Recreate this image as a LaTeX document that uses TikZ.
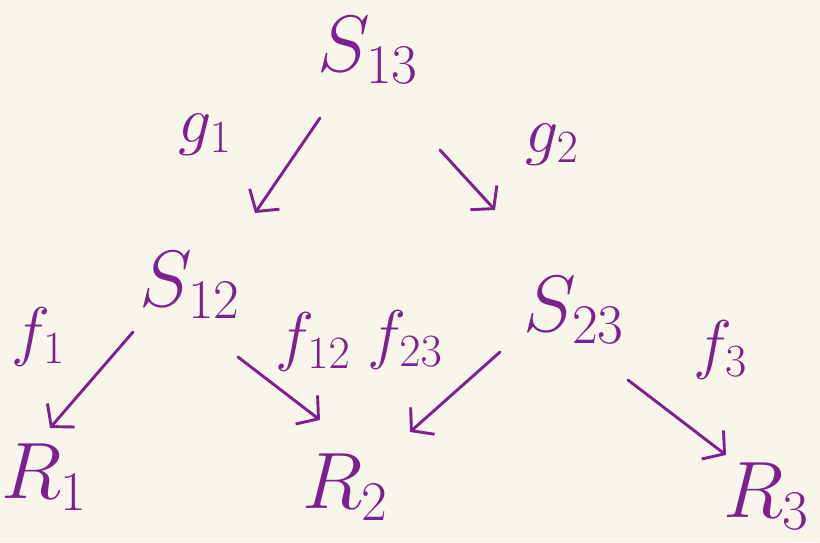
\RequirePackage{fix-cm}
\documentclass[tikz,border=0pt]{standalone}
\usepackage{amsmath}
\usepackage{xcolor}
\definecolor{inkPurple}{HTML}{7E2090}
\definecolor{paperCream}{HTML}{F8F5EA}
\usetikzlibrary{arrows.meta, positioning, calc}

\begin{document}
\begin{tikzpicture}[x=1pt, y=-1pt,
  obj/.style={text=inkPurple, inner sep=0pt, font=\fontsize{80}{90}\selectfont},
  maplabel/.style={text=inkPurple, inner sep=0pt, font=\fontsize{66}{72}\selectfont},
  maparrow/.style={draw=inkPurple, line width=2.9pt, line cap=round, line join=round,
    -{Straight Barb[length=15pt, width=36pt]}}]
  \useasboundingbox (0,0) rectangle (820,542);
  \fill[paperCream] (0,0) rectangle (820,542);

  % objects
  \node[obj] (s13) at (368,50) {$S_{13}$};
  \node[obj] (s12) at (190,285) {$S_{12}$};
  \node[obj] (s23) at (574,310) {$S_{23}$};
  \node[obj] (r1) at (44,477) {$R_1$};
  \node[obj] (r2) at (345,487) {$R_2$};
  \node[obj] (r3) at (766,496) {$R_3$};

  % maps
  \node[maplabel] (g1) at (205,135) {$g_1$};
  \node[maplabel] (g2) at (552,145) {$g_2$};
  \node[maplabel] (f1) at (38,337) {$f_1$};
  \node[maplabel] (f12) at (313,342) {$f_{12}$};
  \node[maplabel] (f23) at (405,340) {$f_{23}$};
  \node[maplabel] (f3) at (720,350) {$f_3$};

  \draw[maparrow] ($(s13)+(-48,68)$) -- ($(s12)+(65,-72)$);
  \draw[maparrow] ($(s13)+(72,100)$) -- ($(s23)+(-79,-100)$);
  \draw[maparrow] ($(s12)+(-57,47)$) -- ($(r1)+(6,-49)$);
  \draw[maparrow] ($(s12)+(48,72)$) -- ($(r2)+(-25,-67)$);
  \draw[maparrow] ($(s23)+(-74,42)$) -- ($(r2)+(65,-55)$);
  \draw[maparrow] ($(s23)+(54,70)$) -- ($(r3)+(-40,-41)$);
\end{tikzpicture}
\end{document}
